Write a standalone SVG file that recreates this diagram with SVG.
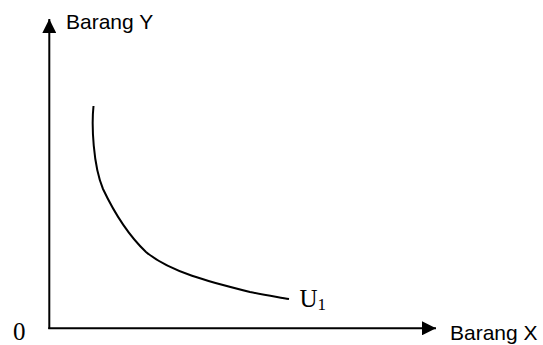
<svg xmlns="http://www.w3.org/2000/svg" width="543" height="345" viewBox="0 0 543 345">
<style>
.ax{stroke:#000;stroke-width:2;fill:none}
.sans{font-family:"Liberation Sans",Arial,sans-serif;font-size:21px;fill:#000}
.serif{font-family:"Liberation Serif","Times New Roman",serif;fill:#000}
</style>
<defs>
<marker id="ah" viewBox="0 0 14 14" refX="14" refY="7" markerWidth="14" markerHeight="14" markerUnits="userSpaceOnUse" orient="auto">
<path d="M0,0 L14,7 L0,14 Z" fill="#000"/>
</marker>
</defs>
<rect width="543" height="345" fill="#fff"/>
<g id="connectors">
<line id="y-axis" class="ax" x1="49.3" y1="329" x2="49.3" y2="19" marker-end="url(#ah)"/>
<line id="x-axis" class="ax" x1="48.3" y1="328.3" x2="436" y2="328.3" marker-end="url(#ah)"/>
</g>
<g id="curve-u1">
<path class="ax" d="M93.5,106 C91.5,125 93,165 103,189 C112,208 125,232 146,252 C170,272 210,282 250,292 C265,295 278,297 289,299"/>
</g>
<g id="label-y"><text class="sans" x="66" y="29.3">Barang Y</text></g>
<g id="label-x"><text class="sans" x="450" y="339.5">Barang X</text></g>
<g id="label-origin"><text class="serif" x="13" y="339.5" font-size="25">0</text></g>
<g id="label-u1"><text class="serif" x="299.5" y="306.5" font-size="25">U<tspan font-size="17" dy="3">1</tspan></text></g>
</svg>
